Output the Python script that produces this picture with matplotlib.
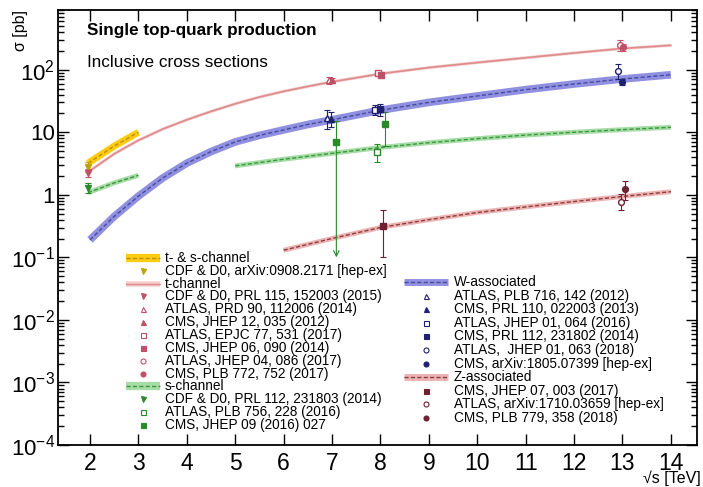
import numpy as np
import matplotlib
matplotlib.use("Agg")
import matplotlib.pyplot as plt
from matplotlib.ticker import FixedLocator, FuncFormatter, LogLocator, NullLocator, NullFormatter

plt.rcParams['font.family'] = ['Liberation Sans', 'DejaVu Sans']
plt.rcParams['mathtext.fontset'] = 'custom'
plt.rcParams['mathtext.rm'] = 'Liberation Sans'
plt.rcParams['mathtext.it'] = 'Liberation Sans:italic'

# --- theory predictions ---
ts_sqrts = [1.96, 2.5, 3.0]
ts_xsec = [3.2, 6.0, 10.0]

t_sqrts = [1.96, 2.25, 2.5, 2.75, 3.0, 3.5, 4.0, 4.5, 5.0, 5.5, 6.0, 6.5, 7, 8, 9, 10, 11, 12, 13, 14]
t_xsec = [2.3, 3.3, 4.5, 5.8, 7.4, 11.2, 15.8, 21.5, 28.5, 36.5, 45, 54, 64, 86, 108, 130, 155, 185, 218, 245]

s_tev_sqrts = [1.96, 2.5, 3.0]
s_tev_xsec = [1.08, 1.55, 2.05]
s_lhc_sqrts = [5, 6, 7, 8, 9, 10, 11, 12, 13, 14]
s_lhc_xsec = [2.9, 3.7, 4.6, 5.7, 6.8, 7.9, 9.0, 10.0, 11.0, 12.0]

w_sqrts = [2.0, 2.5, 3.0, 3.5, 4.0, 4.5, 5.0, 5.5, 6.0, 6.5, 7, 8, 9, 10, 11, 12, 13, 14]
w_xsec = [0.19, 0.45, 0.95, 1.85, 3.2, 4.9, 7.0, 8.9, 10.9, 13.3, 15.8, 22.5, 30, 38, 48, 59, 71, 83]

z_sqrts = [6, 7, 8, 9, 10, 11, 12, 13, 14]
z_xsec = [0.13, 0.2, 0.3, 0.4, 0.52, 0.64, 0.78, 0.94, 1.12]

# --- measurements ---
ts_meas_sqrts = [1.96]
ts_meas_xsec = [2.76]
ts_meas_lo = [0.47]
ts_meas_hi = [0.58]
ts_refs = ['CDF & D0, arXiv:0908.2171 [hep-ex]']

t_meas_sqrts = [1.96, 7, 7, 8, 8, 13, 13]
t_meas_xsec = [2.25, 68.0, 67.2, 89.6, 83.6, 247, 232]
t_meas_lo = [0.31, 8.0, 6.1, 6.3, 7.7, 46, 30]
t_meas_hi = [0.29, 8.0, 6.1, 7.1, 7.7, 46, 30]
t_refs = ['CDF & D0, PRL 115, 152003 (2015)', 'ATLAS, PRD 90, 112006 (2014)',
          'CMS, JHEP 12, 035 (2012)', 'ATLAS, EPJC 77, 531 (2017)',
          'CMS, JHEP 06, 090 (2014)', 'ATLAS, JHEP 04, 086 (2017)',
          'CMS, PLB 772, 752 (2017)']

s_meas_sqrts = [1.96, 8, 7, 8]
s_meas_xsec = [1.29, 4.8, 7.1, 13.4]
s_meas_lo = [0.24, 1.5, 7.0, 7.3]
s_meas_hi = [0.26, 1.6, 8.1, 7.3]
s_refs = ['CDF & D0, PRL 112, 231803 (2014)', 'ATLAS, PLB 756, 228 (2016)',
          'CMS, JHEP 09 (2016) 027']

w_meas_sqrts = [7, 7, 8, 8, 13, 13]
w_meas_xsec = [16.8, 16.0, 23.0, 23.4, 94, 63.1]
w_meas_lo = [5.7, 4.0, 3.9, 5.4, 22, 6.6]
w_meas_hi = [5.7, 5.0, 3.9, 5.4, 28, 6.6]
w_refs = ['ATLAS, PLB 716, 142 (2012)', 'CMS, PRL 110, 022003 (2013)',
          'ATLAS, JHEP 01, 064 (2016)', 'CMS, PRL 112, 231802 (2014)',
          'ATLAS,  JHEP 01, 063 (2018)', 'CMS, arXiv:1805.07399 [hep-ex]']

z_meas_sqrts = [8, 13, 13]
z_meas_xsec = [0.32, 0.78, 1.23]
z_meas_lo = [0.22, 0.2, 0.4]
z_meas_hi = [0.26, 0.25, 0.45]
z_refs = ['CMS, JHEP 07, 003 (2017)', 'ATLAS, arXiv:1710.03659 [hep-ex]',
          'CMS, PLB 779, 358 (2018)']

y_tick_values = [1e-4, 1e-3, 1e-2, 1e-1, 1, 10, 100]

# colours: (band, line, markers)
c_ts = ('#ffcc11', '#b8900a', '#c0a000')
c_t = ('#f6cccc', '#dc8c8c', '#c0506a')
c_s = ('#a6dca6', '#3c963c', '#2a8a2a')
c_w = ('#9090e0', '#4a4aa0', '#202070')
c_z = ('#ecb4b4', '#8c3c3c', '#702030')

DASH = (0, (3, 1.6))


def draw_band(ax, x, y, colors, band_lw, dashed=True):
    ax.plot(x, y, color=colors[0], lw=band_lw, solid_capstyle='butt', zorder=2)
    ax.plot(x, y, color=colors[1], lw=1.0 if dashed else 1.2, ls=DASH if dashed else '-', zorder=3)


def draw_points(ax, x, y, lo, hi, markers, filled, shifts, color, arrows=None):
    for i in range(len(x)):
        xi = x[i] + shifts[i]
        mfc = color if filled[i] else 'white'
        if arrows is not None and arrows[i]:
            ax.errorbar(xi, y[i], yerr=[[0], [hi[i]]], fmt=markers[i], color=color, mfc=mfc,
                        mec=color, ms=4.2, elinewidth=0.8, capsize=2, capthick=0.8, zorder=6)
            ax.annotate('', xy=(xi, y[i] - lo[i]), xytext=(xi, y[i]),
                        arrowprops=dict(arrowstyle='->', color=color, lw=0.8,
                                        shrinkA=0, shrinkB=0), zorder=6)
        else:
            ax.errorbar(xi, y[i], yerr=[[lo[i]], [hi[i]]], fmt=markers[i], color=color, mfc=mfc,
                        mec=color, ms=4.2, elinewidth=0.8, capsize=2, capthick=0.8, zorder=6)


fig = plt.figure(figsize=(7.03, 4.87), dpi=100)
ax = fig.add_axes([58 / 703, 42 / 487, 639 / 703, 435 / 487])

draw_band(ax, ts_sqrts, ts_xsec, c_ts, 5)
draw_band(ax, t_sqrts, t_xsec, c_t, 2.2, dashed=False)
draw_band(ax, s_tev_sqrts, s_tev_xsec, c_s, 3.5)
draw_band(ax, s_lhc_sqrts, s_lhc_xsec, c_s, 3.5)
draw_band(ax, w_sqrts, w_xsec, c_w, 5.5)
draw_band(ax, z_sqrts, z_xsec, c_z, 3.5)

draw_points(ax, ts_meas_sqrts, ts_meas_xsec, ts_meas_lo, ts_meas_hi, ['v'], [True], [0], c_ts[2])
t_markers = ['v', '^', '^', 's', 's', 'o', 'o']
t_filled = [True, False, True, False, True, False, True]
draw_points(ax, t_meas_sqrts, t_meas_xsec, t_meas_lo, t_meas_hi, t_markers, t_filled,
            [0, -0.07, 0.0, -0.05, 0.02, -0.06, 0.02], c_t[2])
draw_points(ax, s_meas_sqrts, s_meas_xsec, s_meas_lo, s_meas_hi, ['v', 's', 's', 's'],
            [True, False, True, True], [0, -0.08, 0.09, 0.09], c_s[2],
            arrows=[False, False, True, False])
w_markers = ['^', '^', 's', 's', 'o', 'o']
w_filled = [False, True, False, True, False, True]
draw_points(ax, w_meas_sqrts, w_meas_xsec, w_meas_lo, w_meas_hi, w_markers, w_filled,
            [-0.1, -0.02, -0.12, 0.0, -0.1, 0.0], c_w[2])
z_markers = ['s', 'o', 'o']
z_filled = [True, False, True]
draw_points(ax, z_meas_sqrts, z_meas_xsec, z_meas_lo, z_meas_hi, z_markers, z_filled,
            [0.05, -0.02, 0.06], c_z[2])

ax.set_yscale('log')
ax.set_xlim(1.34, 14.54)
ax.set_ylim(1e-4, 900)

ax.xaxis.set_major_locator(FixedLocator(range(2, 15)))
ax.xaxis.set_minor_locator(NullLocator())
ax.yaxis.set_major_locator(FixedLocator(y_tick_values))
ax.yaxis.set_minor_locator(LogLocator(base=10, subs=np.arange(2, 10), numticks=12))
ax.yaxis.set_minor_formatter(NullFormatter())


def ylab(v, pos):
    e = int(round(np.log10(v)))
    if e == 0:
        return '1'
    if e == 1:
        return '10'
    return r'$10^{%d}$' % e


ax.yaxis.set_major_formatter(FuncFormatter(ylab))
ax.tick_params(which='both', direction='in', top=True, right=True, width=1)
ax.tick_params(which='major', length=8)
ax.tick_params(which='minor', length=4.5)
ax.tick_params(axis='x', labelsize=16.5, pad=5)
ax.tick_params(axis='y', labelsize=16, pad=2)
for sp in ax.spines.values():
    sp.set_linewidth(1.3)

ax.text(0.0455, 0.954, 'Single top-quark production', transform=ax.transAxes,
        fontsize=12.3, fontweight='bold', va='center')
ax.text(0.0455, 0.880, 'Inclusive cross sections', transform=ax.transAxes,
        fontsize=12.3, va='center')

fig.text(20 / 703, 1 - 10 / 487, 'σ [pb]', rotation=90, ha='center', va='top', fontsize=11.5)
fig.text(701 / 703, 1 / 487, '√s [TeV]', ha='right', va='bottom', fontsize=11.5)


# --- legends, drawn by hand like the ROOT ones ---
def legend_block(entries, x_sym, x_txt, y0, dy, band_w):
    y = y0
    for kind, colors, spec, label in entries:
        if kind == 'band':
            lw, dashed = spec
            xs = [x_sym - band_w / 2, x_sym + band_w / 2]
            ax.plot(xs, [y, y], transform=ax.transAxes, color=colors[0], lw=lw,
                    solid_capstyle='butt', clip_on=False, zorder=7)
            ax.plot(xs, [y, y], transform=ax.transAxes, color=colors[1], lw=1.0,
                    ls=DASH if dashed else '-', clip_on=False, zorder=8)
        else:
            marker, filled = spec
            ax.plot([x_sym], [y], transform=ax.transAxes, marker=marker, ms=3.6,
                    color=colors[2], mfc=colors[2] if filled else 'white', mec=colors[2],
                    mew=0.8, clip_on=False, zorder=8)
        ax.text(x_txt, y, label, transform=ax.transAxes, fontsize=9.8, va='center', zorder=8)
        y -= dy


left_entries = [('band', c_ts, (6, True), 't- & s-channel'),
                ('mark', c_ts, ('v', True), ts_refs[0]),
                ('band', c_t, (4, False), 't-channel')]
left_entries += [('mark', c_t, (m, f), r) for m, f, r in zip(t_markers, t_filled, t_refs)]
left_entries += [('band', c_s, (6, True), 's-channel')]
left_entries += [('mark', c_s, (m, f), r) for m, f, r in zip(['v', 's', 's'], [True, False, True], s_refs)]

right_entries = [('band', c_w, (5, True), 'W-associated')]
right_entries += [('mark', c_w, (m, f), r) for m, f, r in zip(w_markers, w_filled, w_refs)]
right_entries += [('band', c_z, (5, True), 'Z-associated')]
right_entries += [('mark', c_z, (m, f), r) for m, f, r in zip(z_markers, z_filled, z_refs)]

legend_block(left_entries, 0.1330, 0.1674, 0.430, 0.02954, 0.052)
legend_block(right_entries, 0.5759, 0.6197, 0.3747, 0.03126, 0.0675)

fig.savefig('out.png', dpi=100)
